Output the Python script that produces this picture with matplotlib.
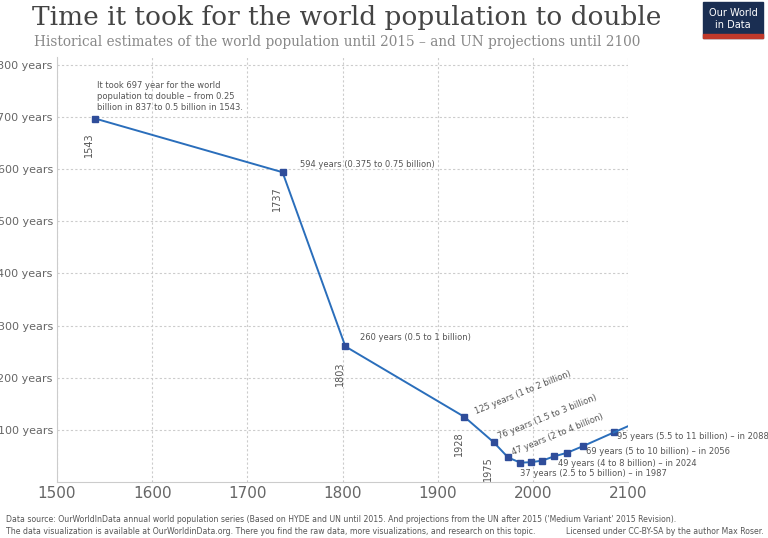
import matplotlib
matplotlib.use("Agg")
import matplotlib.pyplot as plt
from matplotlib.patches import Rectangle

years = [1540, 1737, 1803, 1928, 1959, 1974, 1987, 1998, 2010, 2022, 2036, 2053, 2085, 2100]
doubling = [697, 594, 260, 125, 76, 47, 37, 38, 41, 49, 56, 69, 95, 107]
xticks = [1500, 1600, 1700, 1800, 1900, 2000, 2100]
yticks = [100, 200, 300, 400, 500, 600, 700, 800]

grey = "#555555"
fig = plt.figure(figsize=(7.68, 5.38), dpi=100)
ax = fig.add_axes([57/768, 1-482/538, 571/768, (482-57)/538])
ax.plot(years[:-1], doubling[:-1], color="#2a6ebb", lw=1.4, marker="s", ms=5,
        markerfacecolor="#2f4d9a", markeredgecolor="#2f4d9a")
ax.plot(years[-2:], doubling[-2:], color="#2a6ebb", lw=1.4)
ax.set_xlim(1500, 2100)
ax.set_ylim(0, 815)
ax.set_xticks(xticks)
ax.set_xticklabels([str(x) for x in xticks], fontsize=11, color="#666666")
ax.set_yticks(yticks)
ax.set_yticklabels([f"{y} years" for y in yticks], fontsize=8, color="#666666")
ax.grid(True, ls=(0, (2, 2)), color="#cccccc", lw=0.8)
for s in ["top", "right"]:
    ax.spines[s].set_visible(False)
ax.spines["left"].set_color("#cccccc")
ax.spines["bottom"].set_color("#cccccc")
ax.tick_params(length=0, pad=3)

fs = 6
ax.text(1542, 710, "It took 697 year for the world\npopulation to double – from 0.25\nbillion in 837 to 0.5 billion in 1543.",
        fontsize=fs, color=grey, va="bottom", ha="left", linespacing=1.3)
ax.text(1755, 604, "594 years (0.375 to 0.75 billion)", fontsize=fs, color=grey)
ax.text(1818, 272, "260 years (0.5 to 1 billion)", fontsize=fs, color=grey)
ax.text(1938, 130, "125 years (1 to 2 billion)", fontsize=fs, color=grey, rotation=22)
ax.text(1962, 82, "76 years (1.5 to 3 billion)", fontsize=fs, color=grey, rotation=22)
ax.text(1977, 52, "47 years (2 to 4 billion)", fontsize=fs, color=grey, rotation=22)
ax.text(1986, 12, "37 years (2.5 to 5 billion) – in 1987", fontsize=fs, color=grey)
ax.text(2026, 31, "49 years (4 to 8 billion) – in 2024", fontsize=fs, color=grey)
ax.text(2056, 53, "69 years (5 to 10 billion) – in 2056", fontsize=fs, color=grey)
ax.text(2088, 82, "95 years (5.5 to 11 billion) – in 2088", fontsize=fs, color=grey, clip_on=False)
for x, y, t in [(1540, 670, "1543"), (1737, 567, "1737"), (1803, 232, "1803"),
                (1928, 97, "1928"), (1959, 50, "1975")]:
    ax.text(x - 6, y, t, fontsize=7, color=grey, rotation=90, ha="center", va="top")

fig.text(32/768, 1-18/538, "Time it took for the world population to double",
         fontsize=19, family="DejaVu Serif", color="#444444", va="center")
fig.text(34/768, 1-42/538, "Historical estimates of the world population until 2015 – and UN projections until 2100",
         fontsize=9.8, family="DejaVu Serif", color="#888888", va="center")
fig.patches.append(Rectangle((703/768, 1-38/538), 60/768, 36/538, transform=fig.transFigure,
                             color="#1a2e52"))
fig.patches.append(Rectangle((703/768, 1-38/538), 60/768, 4/538, transform=fig.transFigure,
                             color="#c0392b"))
fig.text(733/768, 1-19/538, "Our World\nin Data", fontsize=7, color="white", ha="center", va="center")
fig.text(6/768, 1-520/538, "Data source: OurWorldInData annual world population series (Based on HYDE and UN until 2015. And projections from the UN after 2015 ('Medium Variant' 2015 Revision).",
         fontsize=5.6, color="#555555", va="center")
fig.text(6/768, 1-532/538, "The data visualization is available at OurWorldinData.org. There you find the raw data, more visualizations, and research on this topic.",
         fontsize=5.6, color="#555555", va="center")
fig.text(764/768, 1-532/538, "Licensed under CC-BY-SA by the author Max Roser.",
         fontsize=5.6, color="#555555", va="center", ha="right")
fig.savefig("out.png", dpi=100)
